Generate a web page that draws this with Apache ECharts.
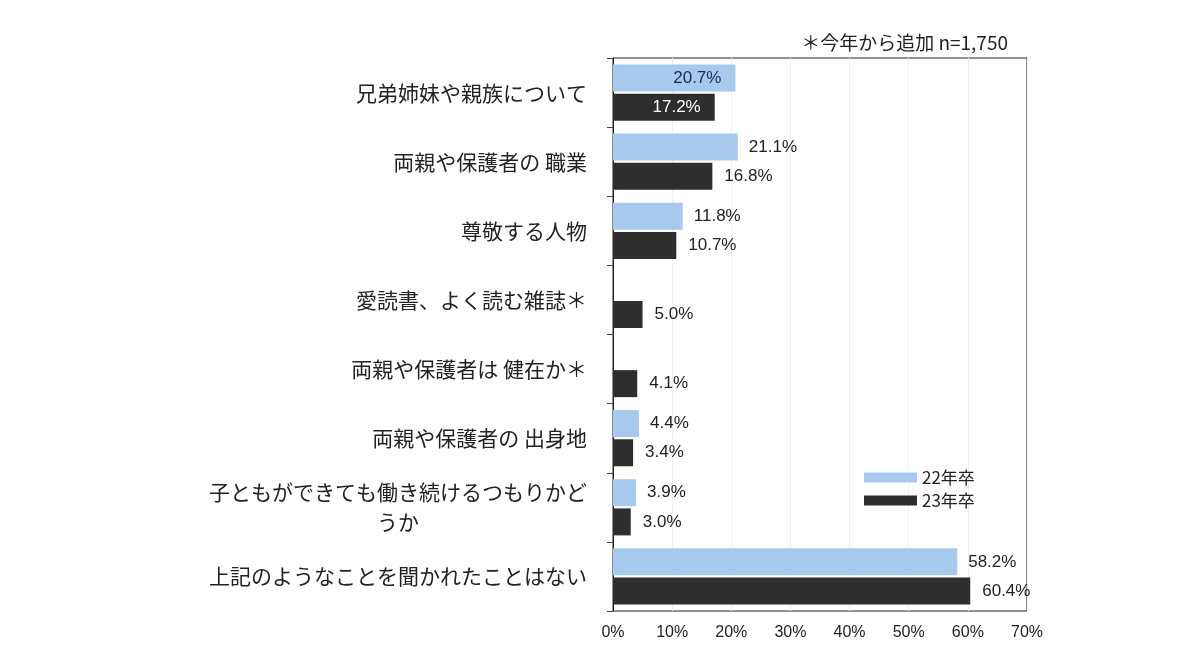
<!DOCTYPE html>
<html><head><meta charset="utf-8">
<script src="https://cdn.jsdelivr.net/npm/echarts@6/dist/echarts.min.js"></script>
<style>html,body{margin:0;padding:0;background:#fff}#c{width:1200px;height:665px}</style>
</head><body><div id="c"></div>
<script>
const categories = [
  '兄弟姉妹や親族について',
  '両親や保護者の 職業',
  '尊敬する人物',
  '愛読書、よく読む雑誌＊',
  '両親や保護者は 健在か＊',
  '両親や保護者の 出身地',
  '子ともができても働き続けるつもりかど\nうか\u3000\u3000\u3000\u3000\u3000\u3000\u3000\u3000',
  '上記のようなことを聞かれたことはない'
];
const seriesNames = ['22年卒', '23年卒'];
const values22 = [20.7, 21.1, 11.8, null, null, 4.4, 3.9, 58.2];
const values23 = [17.2, 16.8, 10.7, 5.0, 4.1, 3.4, 3.0, 60.4];
const xTicks = [0, 10, 20, 30, 40, 50, 60, 70];
const noteText = '＊今年から追加 n=1,750';

const insideIdx22 = [0];
const insideIdx23 = [0];

function mk(vals, insideIdx, insideColor) {
  return vals.map((v, i) => insideIdx.includes(i)
    ? { value: v, label: { position: 'insideRight', distance: 14, color: insideColor } }
    : v);
}

const chart = echarts.init(document.getElementById('c'));
const valueFont = { fontFamily: 'Liberation Sans, Arial, sans-serif', fontSize: 17, color: '#222' };
chart.setOption({
  animation: false,
  backgroundColor: '#fff',
  grid: { left: 613, right: 173, top: 58, bottom: 54, show: true, borderColor: '#222', borderWidth: 1, backgroundColor: 'transparent' },
  graphic: [{
    type: 'text', right: 192, top: 33,
    style: { text: noteText, font: '19px "Noto Sans CJK JP"', fill: '#222' }
  }],
  legend: {
    orient: 'vertical', left: 864, top: 469, padding: 0, itemWidth: 53, itemHeight: 10, itemGap: 6,
    icon: 'rect',
    textStyle: { fontFamily: 'Noto Sans CJK JP', fontSize: 17, color: '#222' },
    data: seriesNames
  },
  xAxis: {
    type: 'value', min: xTicks[0], max: xTicks[xTicks.length - 1], interval: 10,
    axisLine: { show: false }, axisTick: { show: false },
    splitLine: { show: true, lineStyle: { color: '#efefef', width: 1 } },
    axisLabel: { formatter: '{value}%', margin: 14, fontFamily: 'Liberation Sans, Arial, sans-serif', fontSize: 16, color: '#222' }
  },
  yAxis: {
    type: 'category', inverse: true, data: categories,
    axisLine: { show: true, lineStyle: { color: '#222' } },
    axisTick: { show: true, length: 6, lineStyle: { color: '#444' } },
    axisLabel: { margin: 26, fontFamily: 'Noto Sans CJK JP', fontSize: 21, color: '#222', lineHeight: 30, align: 'right' }
  },
  series: [
    {
      name: seriesNames[0], type: 'bar', barWidth: 27, barGap: '8%',
      itemStyle: { color: '#a7c9ee' },
      label: { show: true, position: 'right', distance: 11, ...valueFont, formatter: p => p.value == null ? '' : p.value.toFixed(1) + '%' },
      data: mk(values22, insideIdx22, '#1d2a55')
    },
    {
      name: seriesNames[1], type: 'bar', barWidth: 27, barGap: '8%',
      itemStyle: { color: '#2e2e2e' },
      label: { show: true, position: 'right', distance: 12, ...valueFont, formatter: p => p.value == null ? '' : p.value.toFixed(1) + '%' },
      data: mk(values23, insideIdx23, '#ffffff')
    }
  ]
});
</script></body></html>
